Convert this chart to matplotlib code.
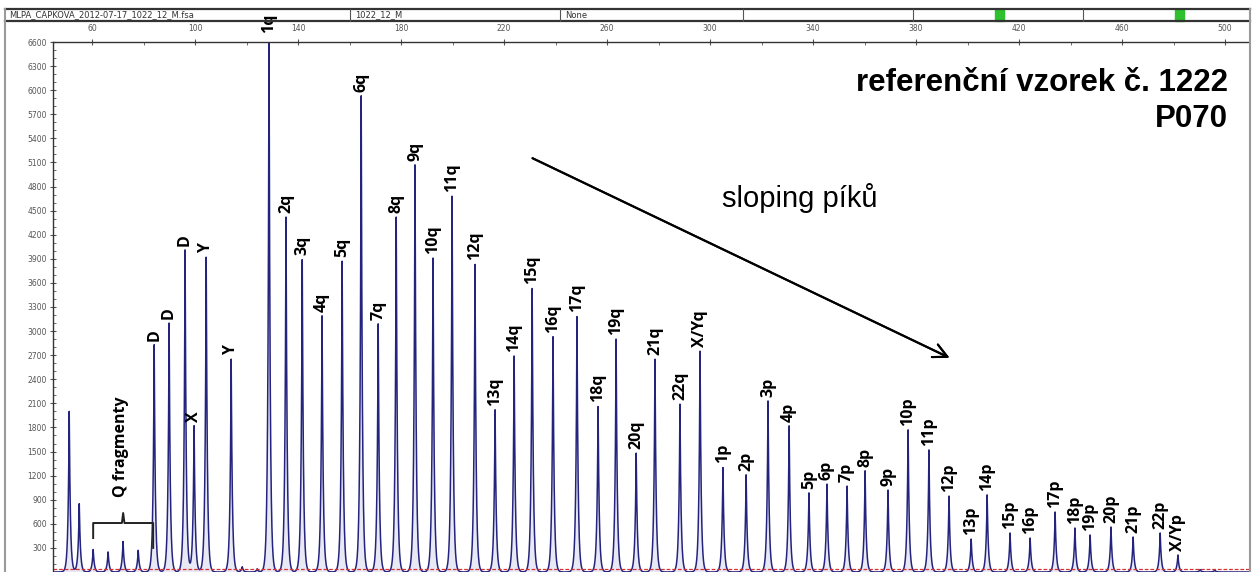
import numpy as np
import matplotlib
matplotlib.use("Agg")
import matplotlib.pyplot as plt
from matplotlib.lines import Line2D
from matplotlib.patches import Rectangle

# peak positions (fragment size), heights (RFU) and labels
peak_sizes = [51.1, 55.0, 60.4, 66.2, 72.0, 77.9, 84.1, 89.9, 96.1, 99.6,
              104.3, 114.0, 118.3, 124.1, 128.7, 135.3, 141.6, 149.3, 157.1, 164.5,
              171.1, 178.1, 185.4, 192.4, 199.8, 208.7, 216.5, 223.9, 230.9, 239.0,
              248.3, 256.5, 263.5, 271.3, 278.6, 288.3, 296.1, 305.0, 314.0, 322.5,
              330.7, 338.4, 345.4, 353.2, 360.2, 369.1, 376.9, 385.0, 392.8, 401.4,
              407.6, 416.5, 424.3, 434.0, 441.7, 447.6, 455.7, 464.3, 474.8, 481.7,
              490.3, 496.0]
peak_heights = [2000, 850, 280, 250, 380, 270, 2830, 3100, 4010, 1820,
                3920, 2650, 65, 40, 6700, 4420, 3890, 3190, 3870, 5930,
                3090, 4420, 5070, 3910, 4680, 3830, 2020, 2690, 3530, 2930,
                3180, 2060, 2900, 1480, 2650, 2090, 2750, 1300, 1210, 2130,
                1820, 985, 1095, 1070, 1260, 1020, 1770, 1520, 946, 410,
                960, 486, 423, 747, 548, 461, 560, 436, 486, 212,
                30, 25]
peak_labels = ["", "", "", "", "", "", "D", "D", "D", "X",
               "Y", "Y", "", "", "1q", "2q", "3q", "4q", "5q", "6q",
               "7q", "8q", "9q", "10q", "11q", "12q", "13q", "14q", "15q", "16q",
               "17q", "18q", "19q", "20q", "21q", "22q", "X/Yq", "1p", "2p", "3p",
               "4p", "5p", "6p", "7p", "8p", "9p", "10p", "11p", "12p", "13p",
               "14p", "15p", "16p", "17p", "18p", "19p", "20p", "21p", "22p", "X/Yp",
               "", ""]
q_fragment_idx = [2, 3, 4, 5]

x_major = list(range(60, 501, 40))
y_major = list(range(300, 6601, 300))

W, H = 1258, 572
fig = plt.figure(figsize=(W / 100, H / 100), dpi=100)
ax = fig.add_axes([53 / W, 0, (1249 - 53) / W, 530 / H])

xs = np.arange(44.8, 509.4, 0.02)
ys = np.zeros_like(xs)
for s, h in zip(peak_sizes, peak_heights):
    ys += h * np.exp(-np.abs(xs - s) / 0.45)

ax.fill_between(xs, 0, ys, color="#a8a8d8", alpha=0.25, lw=0)
ax.plot(xs, ys, color="#24247e", lw=1.1)
ax.axhline(35, color="#d83030", lw=0.9, ls=(0, (3, 1.5)))

ax.set_xlim(44.8, 509.3)
ax.set_ylim(0, 6600)

for s, h, lab in zip(peak_sizes, peak_heights, peak_labels):
    if not lab:
        continue
    off = 3 if h <= 6600 else 6.5
    ax.annotate(lab, (s, min(h, 6600)), xytext=(0, off), textcoords="offset points",
                rotation=90, ha="center", va="bottom", fontsize=11.5,
                fontweight="bold", family="Open Sans", annotation_clip=False)

# bracket over the Q fragments
qx = [peak_sizes[i] for i in q_fragment_idx]
left, right = qx[0], peak_sizes[q_fragment_idx[-1] + 1] - 0.4
mid = (left + right) / 2
ax.plot([left, left, mid - 0.5, mid, mid + 0.5, right, right],
        [423, 610, 610, 735, 610, 610, 300], color="#222222", lw=1.4)
ax.text(mid - 1.0, 930, "Q fragmenty", rotation=90, ha="center", va="bottom",
        fontsize=11.5, fontweight="bold", family="Open Sans")

# axes styling
for side in ("right", "bottom"):
    ax.spines[side].set_visible(False)
for side in ("left", "top"):
    ax.spines[side].set_color("#333333")
    ax.spines[side].set_linewidth(1.0)
ax.xaxis.tick_top()
ax.set_xticks(x_major)
ax.set_xticks(range(60, 509, 20), minor=True)
ax.set_yticks(y_major)
ax.set_yticks(range(0, 6601, 100), minor=True)
ax.tick_params(axis="both", which="major", direction="inout", length=5, width=0.8,
               labelsize=5.5, colors="#555555", pad=2)
ax.tick_params(axis="both", which="minor", direction="in", length=2.5, width=0.6,
               colors="#555555")
ax.tick_params(axis="x", which="major", pad=4)

# annotations
fig.text(1228 / W, 1 - 91 / H, "referenční vzorek č. 1222", ha="right",
         va="baseline", fontsize=22.5, fontweight="bold", family="Liberation Sans")
fig.text(1228 / W, 1 - 127 / H, "P070", ha="right", va="baseline",
         fontsize=22.5, fontweight="bold", family="Liberation Sans")
fig.text(722 / W, 1 - 207 / H, "sloping píků", ha="left", va="baseline",
         fontsize=21, family="Liberation Sans")
fig.add_artist(plt.annotate("", xy=(952 / W, 1 - 359 / H), xytext=(530 / W, 1 - 157 / H),
                            xycoords="figure fraction", textcoords="figure fraction",
                            arrowprops=dict(arrowstyle="->", color="black", lw=1.5,
                                            mutation_scale=25)))

# header strip with file info
y_top, y_bot = 1 - 9 / H, 1 - 21 / H
fig.add_artist(Line2D([5 / W, 1250 / W], [y_top, y_top], color="#333333", lw=1.6))
fig.add_artist(Line2D([5 / W, 1250 / W], [y_bot, y_bot], color="#333333", lw=1.6))
for px in (350, 560, 743, 913, 1083):
    fig.add_artist(Line2D([px / W, px / W], [y_bot, y_top], color="#555555", lw=0.8))
for px in (995, 1175):
    fig.add_artist(Rectangle((px / W, y_bot), 9 / W, y_top - y_bot, color="#2ec02e",
                             transform=fig.transFigure))
for px, txt in ((9, "MLPA_CAPKOVA_2012-07-17_1022_12_M.fsa"), (355, "1022_12_M"),
                (565, "None")):
    fig.text(px / W, (y_top + y_bot) / 2, txt, ha="left", va="center", fontsize=6,
             color="#333333")

# outer frame
fig.add_artist(Line2D([5 / W, 5 / W], [0, y_top], color="#9a9a9a", lw=1.5))
fig.add_artist(Line2D([1250 / W, 1250 / W], [0, y_top], color="#9a9a9a", lw=1.5))

fig.savefig("out.png", dpi=100)
